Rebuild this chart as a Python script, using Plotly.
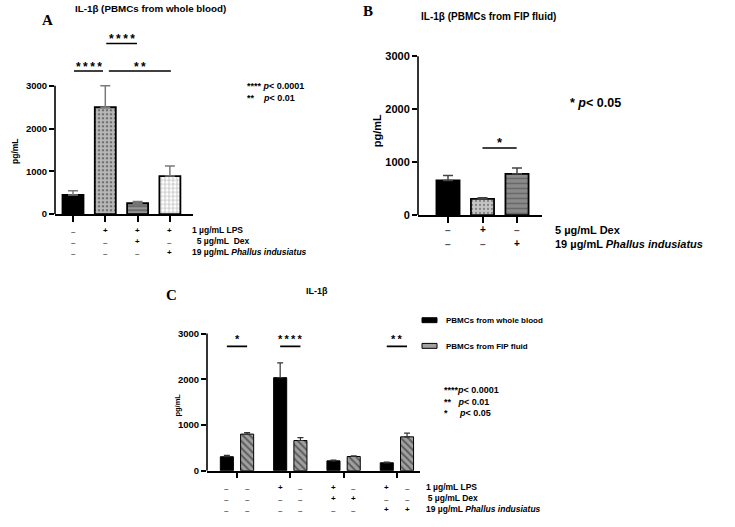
import plotly.graph_objects as go

W, H = 735, 527

# ---------------- data ----------------
# Panel A: IL-1β (PBMCs from whole blood)
a_pos = [0, 1, 2, 3]
a_vals = [450, 2500, 255, 890]
a_err = [95, 500, 40, 235]

# Panel B: IL-1β (PBMCs from FIP fluid)
b_pos = [0, 1, 2]
b_vals = [655, 305, 780]
b_err = [95, 25, 110]

# Panel C: IL-1β both sources
c_groups = [0, 1, 2, 3]
c_whole = [305, 2035, 215, 172]
c_whole_err = [30, 325, 15, 15]
c_fip = [800, 660, 310, 740]
c_fip_err = [35, 65, 15, 80]

y_ticks = [0, 1000, 2000, 3000]

a_rows = [["–", "+", "+", "+"], ["–", "–", "+", "–"], ["–", "–", "–", "+"]]
a_row_labels = ["1 µg/mL LPS", "\u00a0\u00a05 µg/mL\u00a0\u00a0Dex", "19 µg/mL <i>Phallus indusiatus</i>"]
b_rows = [["–", "+", "–"], ["–", "–", "+"]]
b_row_labels = ["5 µg/mL Dex", "19 µg/mL <i>Phallus indusiatus</i>"]
c_rows = [["–", "–", "+", "–", "+", "–", "+", "–"],
          ["–", "–", "–", "–", "+", "+", "–", "–"],
          ["–", "–", "–", "–", "–", "–", "+", "+"]]
c_row_labels = ["1 µg/mL LPS", "\u20095 µg/mL Dex", "19 µg/mL <i>Phallus indusiatus</i>"]
c_names = ["PBMCs from whole blood", "PBMCs from FIP fluid"]

a_key = ["****\u00a0<i>p</i>< 0.0001", "**\u00a0\u00a0\u00a0\u00a0<i>p</i>< 0.01"]
b_key = ["*\u00a0<i>p</i>< 0.05"]
c_key = ["****<i>p</i>< 0.0001", "**\u00a0\u00a0\u00a0<i>p</i>< 0.01", "*\u00a0\u00a0\u00a0\u00a0\u00a0<i>p</i>< 0.05"]

FONT = "Liberation Sans, Arial, sans-serif"
SERIF = "Liberation Serif, Times New Roman, serif"


def fx(px):
    return px / W


def fy(py):
    return 1 - py / H


fig = go.Figure()

# ---------------- layout helpers ----------------
def panel(idx, x_left_px, x_right_px, first_px, unit_px, first_val, y0_px, px_per_3000, ymax, tickvals, tick_font):
    xr = [first_val + (x_left_px - first_px) / unit_px, first_val + (x_right_px - first_px) / unit_px]
    top_px = y0_px - ymax * px_per_3000 / 3000
    sfx = "" if idx == 1 else str(idx)
    fig.layout["xaxis" + sfx] = dict(
        domain=[fx(x_left_px), fx(x_right_px)], range=xr, anchor="y" + sfx,
        showline=True, linecolor="black", linewidth=1.6, showgrid=False, zeroline=False,
        ticks="outside", ticklen=6, tickwidth=1.5, tickcolor="black",
        tickvals=tickvals, showticklabels=False, fixedrange=True)
    fig.layout["yaxis" + sfx] = dict(
        domain=[fy(y0_px), fy(top_px)], range=[0, ymax], anchor="x" + sfx,
        showline=False, showgrid=False, zeroline=False,
        ticks="outside", ticklen=5, tickwidth=1.5, tickcolor="black",
        tickvals=y_ticks, ticktext=[str(v) for v in y_ticks],
        tickfont=dict(family=FONT, size=tick_font, color="black", weight="bold"),
        fixedrange=True)
    fig.add_shape(type="line", xref="x" + sfx + " domain", x0=0, x1=0,
                  yref="y" + sfx, y0=0, y1=3000, line=dict(color="black", width=1.6))


panel(1, 55, 193, 73, 32.3, 0, 216, 130, 4300, a_pos, 9.5)
panel(2, 418, 542, 448, 34.5, 0, 217, 161, 3100, b_pos, 11)
panel(3, 207, 420, 237, 53.3, 0, 476, 139, 3100, c_groups, 9.5)

# ---------------- bars ----------------
fig.add_trace(go.Bar(
    x=a_pos, y=a_vals, width=0.65, xaxis="x", yaxis="y",
    marker=dict(color=["black", "#6e6e6e", "#6a6a6a", "white"],
                line=dict(color="black", width=1.8),
                pattern=dict(shape=["", "+", "-", "+"],
                             fgcolor=["black", "black", "#c8c8c8", "#8a8a8a"],
                             bgcolor=["black", "#6e6e6e", "#6a6a6a", "white"],
                             size=[6, 4, 4, 4], solidity=[0.5, 0.7, 0.3, 0.25])),
    error_y=dict(type="data", array=a_err, arrayminus=[0] * len(a_err), symmetric=False,
                 color="#7a7a7a", thickness=1.5, width=5),
    showlegend=False, hoverinfo="skip"))

fig.add_trace(go.Bar(
    x=b_pos, y=b_vals, width=0.67, xaxis="x2", yaxis="y2",
    marker=dict(color=["black", "#c4c4c4", "#8a8a8a"],
                line=dict(color="black", width=1.8),
                pattern=dict(shape=["", ".", "-"],
                             fgcolor=["black", "#555555", "#d0d0d0"],
                             bgcolor=["black", "#c4c4c4", "#8a8a8a"],
                             size=[6, 4, 5], solidity=[0.5, 0.25, 0.3])),
    error_y=dict(type="data", array=b_err, arrayminus=[0] * len(b_err), symmetric=False,
                 color="#444444", thickness=1.5, width=5),
    showlegend=False, hoverinfo="skip"))

off = 0.19
fig.add_trace(go.Bar(
    x=[g - off for g in c_groups], y=c_whole, width=0.245, xaxis="x3", yaxis="y3",
    name=c_names[0],
    marker=dict(color="black", line=dict(color="black", width=1)),
    error_y=dict(type="data", array=c_whole_err, arrayminus=[0] * 4, symmetric=False,
                 color="#333333", thickness=1.2, width=3),
    showlegend=False, hoverinfo="skip"))
fig.add_trace(go.Bar(
    x=[g + off for g in c_groups], y=c_fip, width=0.245, xaxis="x3", yaxis="y3",
    name=c_names[1],
    marker=dict(color="#a0a0a0", line=dict(color="black", width=1),
                pattern=dict(shape="\\", fgcolor="#1a1a1a", bgcolor="#a0a0a0", size=5, solidity=0.4)),
    error_y=dict(type="data", array=c_fip_err, arrayminus=[0] * 4, symmetric=False,
                 color="#333333", thickness=1.2, width=3),
    showlegend=False, hoverinfo="skip"))

fig.update_layout(barmode="overlay")

# ---------------- annotations ----------------
anns = []


def ptext(text, xpx, ypx, size, bold=False, xanchor="left", family=FONT, angle=0):
    anns.append(dict(text=text, x=fx(xpx), y=fy(ypx), xref="paper", yref="paper",
                     xanchor=xanchor, yanchor="middle", showarrow=False, textangle=angle,
                     align="left",
                     font=dict(family=family, size=size, color="black",
                               weight="bold" if bold else "normal")))


def sig(ax, x0, x1, y, stars, ystar, size):
    fig.add_shape(type="line", xref=ax[0], yref=ax[1], x0=x0, x1=x1, y0=y, y1=y,
                  line=dict(color="black", width=1.6))
    anns.append(dict(text=stars, x=(x0 + x1) / 2, y=ystar, xref=ax[0], yref=ax[1],
                     xanchor="center", yanchor="middle", showarrow=False,
                     font=dict(family=FONT, size=size, color="black", weight="bold")))


S4 = "*\u2009*\u2009*\u2009*"
S2 = "*\u2009*"
# panel A significance
sig(("x", "y"), 0.03, 0.93, 3346, S4, 3440, 12)
sig(("x", "y"), 1.03, 1.98, 3992, S4, 4090, 12)
sig(("x", "y"), 1.11, 3.03, 3346, S2, 3440, 12)
# panel B
sig(("x2", "y2"), 1.0, 1.99, 1267, "*", 1380, 13)
# panel C
sig(("x3", "y3"), -off, off, 2719, "*", 2880, 11)
sig(("x3", "y3"), 1 - off, 1 + off, 2719, S4, 2880, 11)
sig(("x3", "y3"), 3 - off, 3 + off, 2719, S2, 2880, 11)

# titles and panel letters
ptext("IL-1β (PBMCs from whole blood)", 150, 8, 9.8, bold=True, xanchor="center")
ptext("A", 47, 19, 15, bold=True, xanchor="center", family=SERIF)
ptext("IL-1β (PBMCs from FIP fluid)", 488, 16, 10, bold=True, xanchor="center")
ptext("B", 368, 10, 15, bold=True, xanchor="center", family=SERIF)
ptext("IL-1β", 317, 294, 9, bold=True, xanchor="center")
ptext("C", 171, 298, 15, bold=True, xanchor="center", family=SERIF)

# y-axis titles
ptext("pg/mL", 15, 152, 8.5, bold=True, xanchor="center", angle=-90)
ptext("pg/mL", 377, 132, 11, bold=True, xanchor="center", angle=-90)
ptext("pg/mL", 178, 410, 7.5, bold=True, xanchor="center", angle=-90)

# p-value keys (multi-line blocks)
ptext("<br>".join(a_key), 245, 92, 9, bold=True)
ptext("<br>".join(b_key), 568, 103, 12.5, bold=True)
ptext("<br>".join(c_key), 442, 405.5, 9, bold=True)

# legend for panel C
fig.add_shape(type="rect", xref="paper", yref="paper", x0=fx(422), x1=fx(437), y0=fy(326), y1=fy(321),
              fillcolor="black", line=dict(color="black", width=1))
fig.add_shape(type="rect", xref="paper", yref="paper", x0=fx(422), x1=fx(437), y0=fy(352), y1=fy(347),
              fillcolor="#a0a0a0", line=dict(color="black", width=1))
ptext(c_names[0], 444, 324, 8, bold=True)
ptext(c_names[1], 444, 350, 8, bold=True)


# treatment rows: +/– symbols under the bars, labels as one block per panel
def rows(xax, positions, table, ys, size):
    for r, row in enumerate(table):
        for p, s in zip(positions, row):
            anns.append(dict(text=s, x=p, y=fy(ys[r] + (1 if s == "–" else 0)), xref=xax, yref="paper",
                             xanchor="center", yanchor="middle", showarrow=False,
                             font=dict(family=FONT, size=size, weight="bold",
                                       color="#555555" if s == "–" else "black")))


rows("x", a_pos, a_rows, [232.5, 243.5, 254.5], 8)
ptext("<br>".join(a_row_labels), 190, 243.5, 8.5, bold=True)

rows("x2", b_pos, b_rows, [232, 246], 10)
ptext("<br>".join(b_row_labels), 553, 239, 11, bold=True)

c_cols = []
for g in c_groups:
    c_cols += [g - off, g + off]
rows("x3", c_cols, c_rows, [493, 504, 515], 8)
ptext("<br>".join(c_row_labels), 424, 504, 8.5, bold=True)

fig.update_layout(
    annotations=anns,
    width=W, height=H,
    margin=dict(l=0, r=0, t=0, b=0),
    paper_bgcolor="white", plot_bgcolor="white",
    showlegend=False,
)

fig.write_html("out.html", config={"displayModeBar": False})
